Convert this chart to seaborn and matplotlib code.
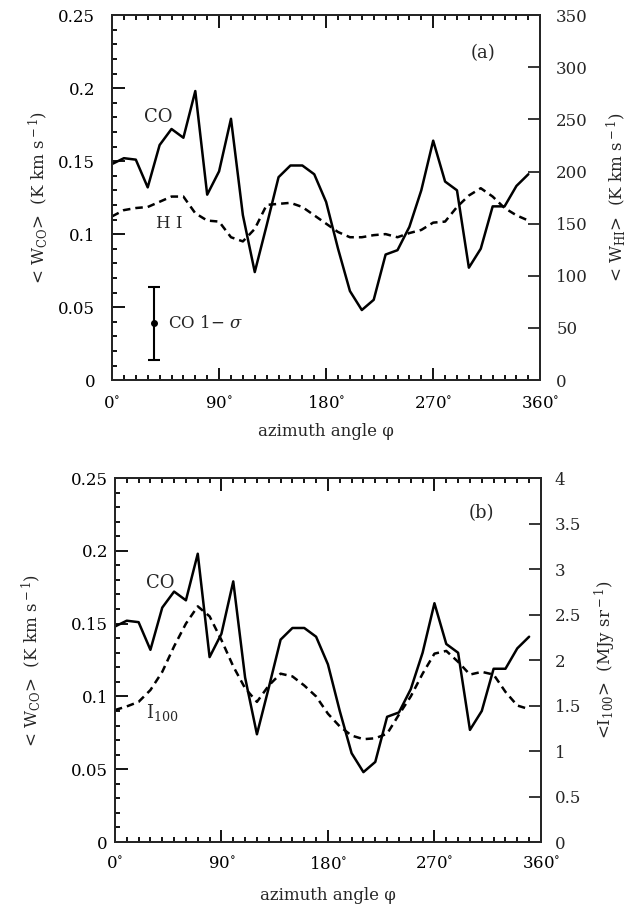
import numpy as np
import pandas as pd
import matplotlib
matplotlib.use('Agg')
import matplotlib.pyplot as plt
from matplotlib.ticker import MultipleLocator, FixedLocator, FixedFormatter
import seaborn as sns

# ─── Données ───
azimuth = [0, 10, 20, 30, 40, 50, 60, 70, 80, 90, 100, 110,
           120, 130, 140, 150, 160, 170, 180, 190, 200, 210, 220, 230,
           240, 250, 260, 270, 280, 290, 300, 310, 320, 330, 340, 350]

w_co = [0.148, 0.152, 0.151, 0.132, 0.161, 0.172, 0.166, 0.198, 0.127, 0.143, 0.179, 0.113,
        0.074, 0.106, 0.139, 0.147, 0.147, 0.141, 0.122, 0.090, 0.061, 0.048, 0.055, 0.086,
        0.089, 0.105, 0.130, 0.164, 0.136, 0.130, 0.077, 0.090, 0.119, 0.119, 0.133, 0.141]

w_hi = [157, 163, 165, 166, 171, 176, 176, 160, 153, 152, 137, 133,
        145, 168, 169, 170, 166, 158, 150, 142, 137, 137, 139, 140,
        137, 141, 144, 151, 152, 166, 177, 184, 176, 165, 158, 153]

i100 = [1.45, 1.49, 1.54, 1.67, 1.87, 2.15, 2.40, 2.59, 2.48, 2.22, 1.93, 1.69,
        1.54, 1.72, 1.85, 1.82, 1.72, 1.60, 1.41, 1.27, 1.17, 1.13, 1.14, 1.19,
        1.40, 1.60, 1.85, 2.07, 2.10, 1.98, 1.84, 1.87, 1.84, 1.65, 1.50, 1.46]

# barre d'erreur CO 1-sigma
err_x = [35]
err_y = [0.039]
err_sig = [0.025]

x_ticks = [0, 90, 180, 270, 360]
x_labels = [r'0$^{\circ}$', r'90$^{\circ}$', r'180$^{\circ}$', r'270$^{\circ}$', r'360$^{\circ}$']
co_ticks = [0, 0.05, 0.1, 0.15, 0.2, 0.25]
co_labels = ['0', '0.05', '0.1', '0.15', '0.2', '0.25']
hi_ticks = [0, 50, 100, 150, 200, 250, 300, 350]
hi_labels = ['0', '50', '100', '150', '200', '250', '300', '350']
ir_ticks = [0, 0.5, 1, 1.5, 2, 2.5, 3, 3.5, 4]
ir_labels = ['0', '0.5', '1', '1.5', '2', '2.5', '3', '3.5', '4']

df = pd.DataFrame({'azimuth': azimuth, 'w_co': w_co, 'w_hi': w_hi, 'i100': i100})

sns.set_style('ticks')
plt.rcParams['font.family'] = ['DejaVu Serif']
plt.rcParams['mathtext.fontset'] = 'dejavuserif'
plt.rcParams['font.size'] = 12
plt.rcParams['axes.linewidth'] = 1.4

fig = plt.figure(figsize=(6.42, 9.05), dpi=100)
ax_a = fig.add_axes([0.1745, 0.580, 0.667, 0.4033])
ax_b = fig.add_axes([0.179, 0.0696, 0.6636, 0.4022])


def style_main(ax, ypad, xpad, ylabpad, xlabpad):
    ax.set_xlim(0, 360)
    ax.set_ylim(0, 0.25)
    ax.xaxis.set_major_locator(FixedLocator(x_ticks))
    ax.xaxis.set_major_formatter(FixedFormatter(x_labels))
    ax.xaxis.set_minor_locator(MultipleLocator(10))
    ax.yaxis.set_major_locator(FixedLocator(co_ticks))
    ax.yaxis.set_major_formatter(FixedFormatter(co_labels))
    ax.yaxis.set_minor_locator(MultipleLocator(0.01))
    ax.tick_params(which='both', direction='in', top=True, right=False,
                   width=1.3, labelsize=12, colors='k')
    ax.tick_params(which='major', length=9)
    ax.tick_params(which='minor', length=3.5)
    ax.tick_params(axis='y', which='major', pad=ypad)
    ax.tick_params(axis='x', which='major', pad=xpad)
    ax.set_xlabel('azimuth angle φ', fontsize=12, labelpad=xlabpad)
    ax.set_ylabel(r'< W$_{\rm CO}$>  (K km s$^{\rm -1}$)', fontsize=12,
                  labelpad=ylabpad)
    for s in ax.spines.values():
        s.set_visible(True)
        s.set_linewidth(1.4)


def style_twin(ax, ticks, labels, top, pad):
    ax.set_ylim(0, top)
    ax.set_xlim(0, 360)
    ax.yaxis.set_major_locator(FixedLocator(ticks))
    ax.yaxis.set_major_formatter(FixedFormatter(labels))
    ax.yaxis.set_minor_locator(FixedLocator([]))
    ax.tick_params(axis='y', which='major', direction='in', length=9,
                   width=1.3, pad=pad, labelsize=12)


# ─── (a) CO et HI ───
sns.lineplot(data=df, x='azimuth', y='w_co', ax=ax_a, color='k', lw=1.8)
style_main(ax_a, ypad=12, xpad=11, ylabpad=6, xlabpad=8)
ax_a.errorbar(err_x, err_y, yerr=err_sig, fmt='o', color='k', ms=4,
              capsize=4, elinewidth=1.5, capthick=1.5)
ax_a.text(39, 0.180, 'CO', ha='center', va='center', fontsize=13)
ax_a.text(48, 0.107, 'H I', ha='center', va='center', fontsize=12)
ax_a.text(47, 0.039, r'CO 1$-$ $\sigma$', ha='left', va='center', fontsize=12)
ax_a.text(312, 0.224, '(a)', ha='center', va='center', fontsize=13)

tw_a = ax_a.twinx()
sns.lineplot(data=df, x='azimuth', y='w_hi', ax=tw_a, color='k', lw=1.8,
             linestyle=(0, (3, 2)))
style_twin(tw_a, hi_ticks, hi_labels, 350, pad=11.5)
tw_a.set_ylabel(r'< W$_{\rm HI}$>  (K km s$^{\rm -1}$)', fontsize=12, labelpad=12)

# ─── (b) CO et I100 ───
sns.lineplot(data=df, x='azimuth', y='w_co', ax=ax_b, color='k', lw=1.8)
style_main(ax_b, ypad=5, xpad=10, ylabpad=20, xlabpad=10)
ax_b.text(38, 0.178, 'CO', ha='center', va='center', fontsize=13)
ax_b.text(40, 0.089, r'I$_{100}$', ha='center', va='center', fontsize=13)
ax_b.text(310, 0.226, '(b)', ha='center', va='center', fontsize=13)

tw_b = ax_b.twinx()
sns.lineplot(data=df, x='azimuth', y='i100', ax=tw_b, color='k', lw=1.8,
             linestyle=(0, (3, 2)))
style_twin(tw_b, ir_ticks, ir_labels, 4, pad=10)
tw_b.set_ylabel(r'<I$_{100}$>  (MJy sr$^{\rm -1}$)', fontsize=12, labelpad=8)

fig.savefig('out.png', dpi=100)
